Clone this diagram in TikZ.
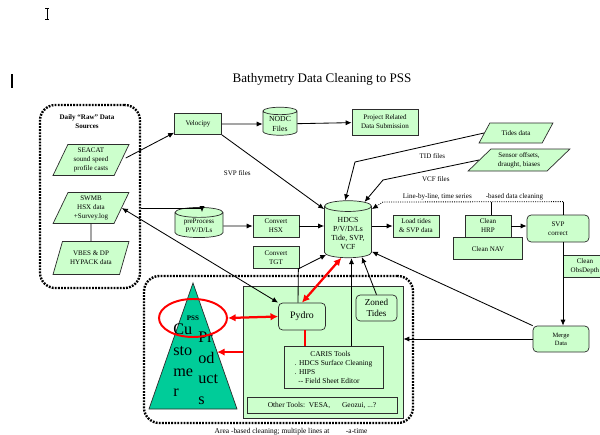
\documentclass[tikz,border=0pt]{standalone}
\usepackage{fontspec}
\setmainfont{Liberation Serif}
\usepackage{tikz}
\usetikzlibrary{arrows.meta,calc,positioning,shapes.geometric}
\definecolor{lgreen}{RGB}{204,255,204}
\definecolor{pssgreen}{RGB}{0,204,153}
\definecolor{edge}{RGB}{45,45,45}
\newcommand{\smallfs}{\fontsize{5}{6.4}\selectfont}
\tikzset{
  box/.style={rectangle,fill=lgreen,draw=edge,line width=0.5pt,align=center,
    inner sep=1pt,font=\smallfs},
  rbox/.style={box,rounded corners=3pt},
  datain/.style={trapezium,trapezium stretches=true,fill=lgreen,draw=edge,
    line width=0.5pt,align=center,inner sep=1pt,font=\smallfs},
  store/.style={cylinder,shape border rotate=90,aspect=0.3,fill=lgreen,
    draw=edge,line width=0.5pt,align=center,inner sep=1pt,font=\smallfs},
  % dotted work areas
  area/.style={rectangle,draw,line width=1.7pt,dash pattern=on 1.3pt off 0.9pt,
    rounded corners=11pt},
  lab/.style={font=\smallfs,inner sep=1pt},
  arr/.style={-{Latex[length=1.5mm,width=1.3mm]},line width=0.6pt},
  both/.style={{Latex[length=1.5mm,width=1.3mm]}-{Latex[length=1.5mm,width=1.3mm]},
    line width=0.6pt},
  redarr/.style={-{Latex[length=1.9mm,width=1.9mm]},draw=red,line width=1.6pt},
  redboth/.style={{Latex[length=1.9mm,width=1.9mm]}-{Latex[length=1.9mm,width=1.9mm]},
    draw=red,line width=1.6pt}
}

\begin{document}
\begin{tikzpicture}[x=0.025cm,y=-0.025cm]
  \useasboundingbox[fill=white] (0,0) rectangle (600,435);
  % text cursors left on the page
  \draw[line width=0.4pt] (45,8) -- (49,8) (47,8) -- (47,19) (45,19) -- (49,19);
  \draw[line width=0.9pt] (12,74) -- (12,88);
  \node[font=\fontsize{9.3}{11}\selectfont] (title) at (322,79) {Bathymetry Data Cleaning to PSS};

  \node[area,minimum width=2.5cm,minimum height=4.575cm] (raw) at (90,196.5) {};
  \node[lab,font=\smallfs\bfseries,align=center] (rawlab) at (87,122) {Daily ``Raw'' Data\\Sources};
  \node[datain,trapezium left angle=66,trapezium right angle=114,minimum width=1.9cm,
    minimum height=0.775cm] (seacat) at (91,160) {SEACAT\\sound speed\\profile casts};
  \node[datain,trapezium left angle=66,trapezium right angle=114,minimum width=1.9cm,
    minimum height=0.775cm] (swmb) at (91,208) {SWMB\\HSX data\\+Survey.log};
  \node[datain,trapezium left angle=66,trapezium right angle=114,minimum width=1.9cm,
    minimum height=0.825cm] (vbes) at (91,258) {VBES \& DP\\HYPACK data};

  \node[area,minimum width=6.725cm,minimum height=3.675cm] (pssarea) at (278.5,349.5) {};
  \node[box,minimum width=4cm,minimum height=3.3cm] (tools) at (323,352) {};
  \coordinate (apex) at (193,283);
  \coordinate (bl) at (149,409);
  \coordinate (br) at (237,409);
  \coordinate (psr) at ($(apex)!0.548!(br)$);
  \fill[pssgreen,draw=edge,line width=0.5pt] (apex) -- (br) -- (bl) -- cycle;
  \node[anchor=north west,inner sep=0pt,align=left,font=\fontsize{11.5}{14.6}\selectfont]
    (cust) at (173,324) {Cu\\sto\\me\\r};
  \node[anchor=north west,inner sep=0pt,align=left,font=\fontsize{11.5}{14.6}\selectfont]
    (prod) at (198,332) {Pr\\od\\uct\\s};
  \node[ellipse,draw=red,line width=1.4pt,minimum width=1.7cm,minimum height=0.95cm,
    inner sep=0pt,font=\fontsize{5}{6}\selectfont\bfseries] (pss) at (193,318) {PSS};

  \node[rbox,minimum width=1.175cm,minimum height=0.675cm,font=\fontsize{7}{8}\selectfont]
    (pydro) at (302,316.5) {Pydro};
  \node[rbox,minimum width=1.025cm,minimum height=0.65cm,font=\fontsize{6.5}{8.3}\selectfont]
    (zoned) at (376.5,308) {Zoned\\Tides};
  \node[box,minimum width=2.475cm,minimum height=1.05cm,align=left,
    font=\fontsize{5.3}{6.4}\selectfont] (caris) at (333.5,367)
    {\hspace*{2.1em}CARIS Tools\\. HDCS Surface Cleaning\\. HIPS\\\hspace*{0.5em}-{}- Field Sheet Editor};
  \node[box,minimum width=3.75cm,minimum height=0.4cm,font=\fontsize{5.3}{6.4}\selectfont]
    (other) at (322,405) {Other Tools:\ \ VESA,\hspace{1.6em}Geozui, ...?};
  \node[lab,anchor=west,font=\fontsize{5.3}{6.4}\selectfont] (note) at (213,432)
    {Area -based cleaning; multiple lines at\hspace{2.2em}-a-time};

  \node[box,minimum width=1.175cm,minimum height=0.525cm] (velo) at (198,124) {Velocipy};
  \node[store,minimum width=0.85cm,minimum height=0.7cm,font=\fontsize{5.5}{6.6}\selectfont]
    (nodc) at (280,124) {NODC\\Files};
  \node[box,minimum width=1.65cm,minimum height=0.65cm] (proj) at (385,122) {Project Related\\Data Submission};
  \node[datain,trapezium left angle=50,trapezium right angle=130,minimum width=1.85cm,
    minimum height=0.5cm] (tides) at (516,133) {Tides data};
  \node[datain,trapezium left angle=45,trapezium right angle=135,minimum width=2.55cm,
    minimum height=0.55cm] (sensor) at (519,160) {Sensor offsets,\\draught, biases};

  \node[store,minimum width=1.175cm,minimum height=1.425cm,font=\fontsize{5.5}{6.4}\selectfont]
    (hdcs) at (348,233) {HDCS\\P/V/D/Ls\\Tide, SVP,\\VCF};
  \node[store,minimum width=1.2cm,minimum height=0.7cm] (prep) at (199,226) {preProcess\\P/V/D/Ls};
  \node[box,minimum width=1.15cm,minimum height=0.55cm] (hsx) at (276,226) {Convert\\HSX};
  \node[box,minimum width=1.15cm,minimum height=0.55cm,below=0.22cm of hsx] (tgt) {Convert\\TGT};
  \node[box,minimum width=1.15cm,minimum height=0.55cm] (load) at (416,226) {Load tides\\\& SVP data};
  \node[box,minimum width=1.15cm,minimum height=0.55cm] (hrp) at (488,226) {Clean\\HRP};
  \node[box,minimum width=1.725cm,minimum height=0.55cm,below=0pt of hrp] (nav) {Clean NAV};
  \node[rbox,minimum width=1.55cm,minimum height=0.675cm] (svp) at (558,228.5) {SVP\\correct};
  \node[box,minimum width=1.1cm,minimum height=0.55cm] (obs) at (585,266) {Clean\\ObsDepth};
  \node[rbox,minimum width=1.4cm,minimum height=0.65cm,font=\fontsize{4.6}{5.8}\selectfont]
    (merge) at (561,339) {Merge\\Data};

  \draw (swmb) -- (vbes);
  \draw[arr,shorten <=3pt] (seacat.east) -- (velo.200);
  \draw[arr] (velo) -- (nodc);
  \draw[arr] (nodc) -- (proj);
  \draw[arr] (velo.south east) -- node[lab,pos=0.3,below left=8pt and 0pt] {SVP files} (hdcs.135);
  \draw[arr] (tides.west) -- node[lab,pos=0.4,below=5pt] {TID files} (355,162) -- (hdcs.95);
  \draw[arr] (sensor.west) -- node[lab,pos=0.45,below=4pt] {VCF files} (383,180) -- (hdcs.62);
  \draw[arr] (raw.east |- swmb) -| ($(prep.north)+(3,5)$);
  \draw[arr] (prep) -- (hsx);
  \draw[arr] (hsx.east) -- (hsx.east -| hdcs.west);
  \draw[arr] (hdcs.east |- load) -- (load.west);
  \draw[arr] (hrp.east) -- (hrp.east -| svp.west);
  \draw ($(hrp.north)+(3,0)$) -- ++(0,-13);
  \draw ($(svp.north)+(5,0)$) -- ++(0,-13) coordinate (lbl);
  \draw[arr,densely dotted] (lbl) -- node[lab,above] {Line-by-line, time series\hspace{2em}-based data cleaning}
    (383,202) -- (hdcs.45);
  \draw[arr] ($(svp.south)+(5,0)$) -- ($(merge.north)+(2,0)$);
  \draw[arr] (merge.west) -- (merge.west -| tools.east);
  \draw[arr] (merge.north west) -- (hdcs.-38);
  \draw[arr] (zoned.north) -- (hdcs.-60);
  \draw[arr] ($(caris.north)+(18,0)$) coordinate (cu) -- (cu |- hdcs.south);
  \draw[arr] ($(pydro.north)+(-4,0)$) -- ($(tgt.south east)+(-1,0)$) -- (hdcs.225);
  \draw[both] (swmb.east) -- (pydro.north west);
  \draw[redboth] (pydro.north) -- (hdcs.255);
  \draw[redboth] (pss.east) -- (pydro.west);
  \draw[red,line width=1.6pt] ($(pydro.south)+(3,0)$) coordinate (pr) -- (pr |- caris.north);
  \draw[redarr] (tools.west |- psr) -- (psr);
\end{tikzpicture}
\end{document}
